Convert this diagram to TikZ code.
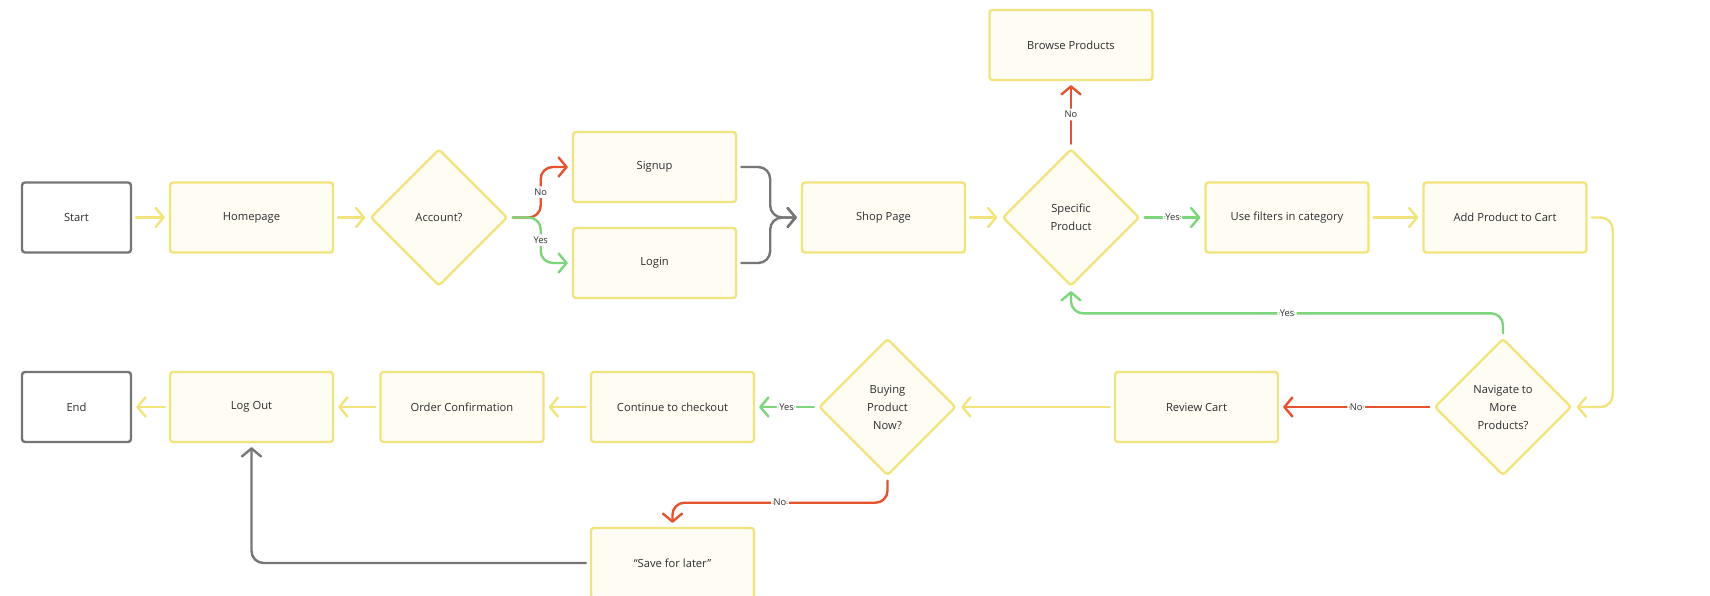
\documentclass[tikz,border=0pt]{standalone}
\usepackage{fontspec}
\setmainfont{Open Sans}
\usetikzlibrary{shapes.geometric,arrows.meta,calc}
\definecolor{ylw}{HTML}{F2E47D}
\definecolor{cream}{HTML}{FFFCF4}
\definecolor{gryl}{HTML}{767676}
\definecolor{redl}{HTML}{E4522E}
\definecolor{grnl}{HTML}{7DD67B}
\definecolor{txt}{HTML}{2E2E2E}
\begin{document}
\begin{tikzpicture}[x=1pt,y=-1pt,
  box/.style={draw=ylw, fill=cream, line width=2.4pt, rounded corners=3pt,
    minimum width=163pt, minimum height=70pt, inner sep=0pt,
    font=\fontsize{11.2}{13}\selectfont, text=txt},
  term/.style={box, draw=gryl, fill=white, minimum width=109pt},
  dec/.style={diamond, draw=ylw, fill=cream, line width=2.4pt, rounded corners=3pt,
    minimum width=137pt, minimum height=137pt, inner sep=0pt, aspect=1,
    align=center, font=\fontsize{11.2}{18}\selectfont, text=txt},
  conn/.style={line width=2.4pt, line cap=round, rounded corners=12pt,
    shorten <=4pt, shorten >=4pt,
    -{Straight Barb[length=8pt,width=19pt,line cap=round,line join=round]}},
  lbl/.style={fill=white, inner sep=2.5pt, text=txt, font=\fontsize{9.3}{11}\selectfont}
]
\fill[white] (0,0) rectangle (1710,596);
\useasboundingbox (0,0) rectangle (1710,596);

% row 1
\node[term] (start) at (76.5,217.5) {Start};
\node[box] (home) at (251.5,217.5) {Homepage};
\node[dec] (acc) at (439,217.5) {Account?};
\node[box] (signup) at (654.5,167) {Signup};
\node[box] (login) at (654.5,263) {Login};
\node[box] (shop) at (883.5,217.5) {Shop Page};
\node[dec] (spec) at (1071,217.5) {Specific\\Product};
\node[box] (browse) at (1071,45) {Browse Products};
\node[box] (filt) at (1287,217.5) {Use filters in category};
\node[box] (add) at (1505,217.5) {Add Product to Cart};

% row 2
\node[dec] (nav) at (1503,407) {Navigate to\\More\\Products?};
\node[box] (review) at (1196.5,407) {Review Cart};
\node[dec] (buy) at (887.5,407) {Buying\\Product\\Now?};
\node[box] (cont) at (672.5,407) {Continue to checkout};
\node[box] (order) at (462,407) {Order Confirmation};
\node[box] (logout) at (251.5,407) {Log Out};
\node[term] (end) at (76.5,407) {End};
\node[box] (save) at (672.5,563) {“Save for later”};

% connectors
\draw[conn,ylw] (start) -- (home);
\draw[conn,ylw] (home) -- (acc);
\draw[conn,redl] (acc.east) -- ++(32,0) |- node[lbl,pos=0.25]{No} (signup.west);
\draw[conn,grnl] (acc.east) -- ++(32,0) |- node[lbl,pos=0.25]{Yes} (login.west);
\draw[conn,gryl] (signup.east) -- ++(33,0) |- (shop.west);
\draw[conn,gryl] (login.east) -- ++(33,0) |- (shop.west);
\draw[conn,ylw] (shop) -- (spec);
\draw[conn,redl] (spec) -- node[lbl]{No} (browse);
\draw[conn,grnl] (spec) -- node[lbl]{Yes} (filt);
\draw[conn,ylw] (filt) -- (add);
\draw[conn,ylw] (add.east) -- ++(25,0) |- (nav.east);
\draw[conn,grnl] (nav.north) -- ++(0,-24) -| node[lbl,pos=0.25]{Yes} (spec.south);
\draw[conn,redl] (nav) -- node[lbl]{No} (review);
\draw[conn,ylw] (review) -- (buy);
\draw[conn,grnl] (buy) -- node[lbl]{Yes} (cont);
\draw[conn,ylw] (cont) -- (order);
\draw[conn,ylw] (order) -- (logout);
\draw[conn,ylw] (logout) -- (end);
\draw[conn,redl] (buy.south) -- ++(0,26) -| node[lbl,pos=0.25]{No} (save.north);
\draw[conn,gryl] (save.west) -| (logout.south);
\end{tikzpicture}
\end{document}
